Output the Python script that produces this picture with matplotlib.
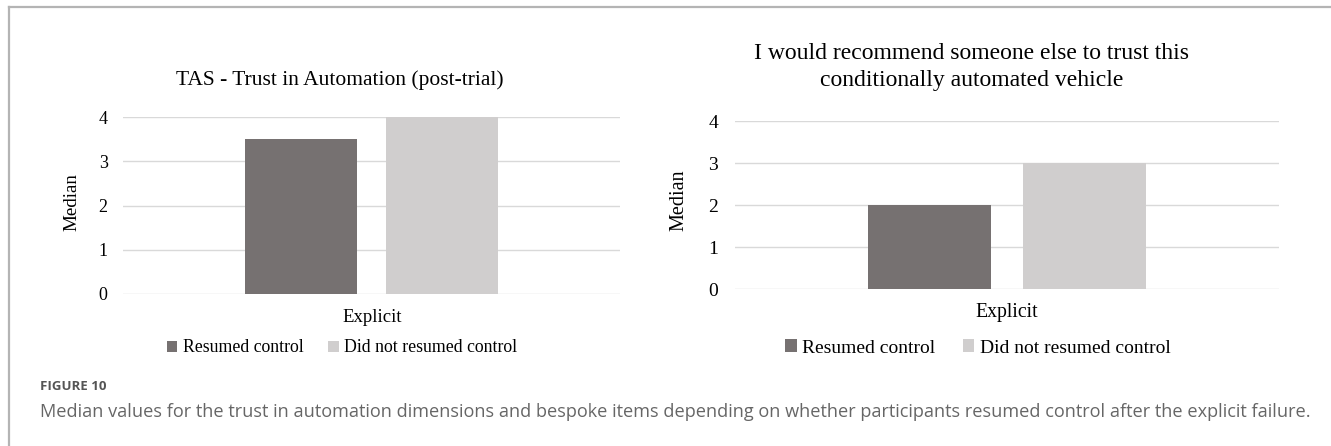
import matplotlib
matplotlib.use("Agg")
import matplotlib.pyplot as plt
from matplotlib.lines import Line2D

W, H = 1331, 446
DPI = 100

# Data
category = "Explicit"
series_names = ["Resumed control", "Did not resumed control"]
series_colors = ["#767171", "#d0cece"]
tas_values = [3.5, 4.0]
recommend_values = [2.0, 3.0]
y_ticks = [0, 1, 2, 3, 4]
left_title = "TAS - Trust in Automation (post-trial)"
right_title = "I would recommend someone else to trust this\nconditionally automated vehicle"
caption_head = "FIGURE 10"
caption_body = ("Median values for the trust in automation dimensions and bespoke items depending "
                "on whether participants resumed control after the explicit failure.")

SERIF = "Liberation Serif"

fig = plt.figure(figsize=(W / DPI, H / DPI), dpi=DPI)
fig.patch.set_facecolor("white")


def fx(x):
    return x / W


def fy(y):
    return 1 - y / H


def axes_px(x0, x1, ytop, ybot):
    return fig.add_axes([fx(x0), fy(ybot), (x1 - x0) / W, (ybot - ytop) / H])


def draw_panel(ax, values, fs_tick, tick_pad):
    offsets = [-0.285, 0.285]
    for off, v, c, name in zip(offsets, values, series_colors, series_names):
        ax.bar(off, v, width=0.45, color=c, label=name, zorder=3)
    ax.set_xlim(-1, 1)
    ax.set_ylim(0, 4)
    ax.set_yticks(y_ticks)
    ax.set_yticklabels([str(t) for t in y_ticks], fontfamily=SERIF, fontsize=fs_tick)
    ax.tick_params(axis="y", length=0, pad=tick_pad)
    ax.set_xticks([])
    ax.grid(axis="y", color="#d9d9d9", linewidth=1.0, zorder=0)
    for s in ax.spines.values():
        s.set_visible(False)


# Left panel
axL = axes_px(123, 620, 117, 294)
draw_panel(axL, tas_values, 13, 11)
fig.text(fx(372), fy(317), category, ha="center", va="center", fontfamily=SERIF, fontsize=13.5)
fig.text(fx(72), fy(202), "Median", ha="center", va="center", rotation=90,
         fontfamily=SERIF, fontsize=13.7)
fig.text(fx(340), fy(80), left_title, ha="center", va="center", fontfamily=SERIF, fontsize=15.5)

# Right panel
axR = axes_px(735, 1279, 121, 289)
draw_panel(axR, recommend_values, 14, 12.2)
fig.text(fx(1007), fy(312), category, ha="center", va="center", fontfamily=SERIF, fontsize=14.2)
fig.text(fx(679), fy(200), "Median", ha="center", va="center", rotation=90,
         fontfamily=SERIF, fontsize=14.5)
fig.text(fx(972), fy(67), right_title, ha="center", va="center", fontfamily=SERIF,
         fontsize=17, linespacing=1.39)

# Legends
for ax, cx, fs in [(axL, 342, 12.8), (axR, 978, 14.0)]:
    handles, labels = ax.get_legend_handles_labels()
    fig.legend(handles, labels, loc="center", bbox_to_anchor=(fx(cx), fy(348)),
               ncol=2, frameon=False, handlelength=0.6, handleheight=0.6,
               handletextpad=0.3, columnspacing=1.4,
               prop={"family": SERIF, "size": fs})

# Caption
fig.text(fx(40), fy(386), caption_head, ha="left", va="center", fontfamily="Open Sans",
         fontsize=9.5, fontweight="bold", color="#555555")
fig.text(fx(40), fy(412), caption_body, ha="left", va="center", fontfamily="Open Sans",
         fontsize=13.1, color="#666666")

# Frame lines
fig.add_artist(Line2D([fx(9), 1], [fy(7), fy(7)], color="#b4b4b4", linewidth=1.6,
                      transform=fig.transFigure))
fig.add_artist(Line2D([fx(9), fx(9)], [0, fy(7)], color="#b4b4b4", linewidth=1.6,
                      transform=fig.transFigure))

fig.savefig("out.png", dpi=DPI, facecolor="white")
